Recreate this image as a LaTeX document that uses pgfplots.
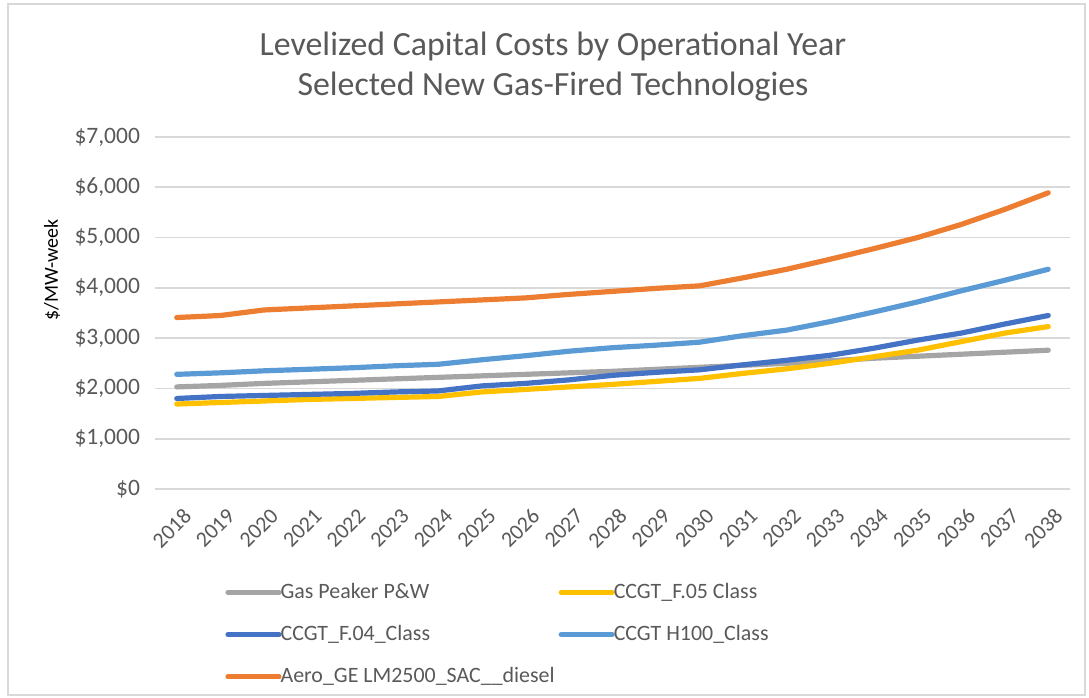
\documentclass[border=0pt]{standalone}
\usepackage{pgfplots}
\pgfplotsset{compat=1.18}
\usepackage{fontspec}
\setmainfont{Carlito}

\definecolor{txtgray}{HTML}{595959}
\definecolor{gridgray}{HTML}{D9D9D9}
\definecolor{cgray}{HTML}{A5A5A5}
\definecolor{cyellow}{HTML}{FFC000}
\definecolor{cdblue}{HTML}{4472C4}
\definecolor{clblue}{HTML}{5B9BD5}
\definecolor{corange}{HTML}{ED7D31}

\pgfplotstableread{
year  peaker  f05   f04   h100  aero
2018  2030  1690  1800  2280  3410
2019  2060  1720  1840  2310  3450
2020  2100  1750  1860  2350  3560
2021  2130  1780  1880  2380  3600
2022  2160  1800  1900  2410  3640
2023  2190  1820  1930  2450  3680
2024  2220  1840  1950  2480  3720
2025  2250  1930  2050  2570  3760
2026  2280  1980  2100  2650  3800
2027  2310  2030  2170  2740  3870
2028  2340  2080  2260  2810  3930
2029  2380  2140  2320  2860  3990
2030  2420  2200  2370  2920  4040
2031  2460  2300  2470  3050  4200
2032  2500  2390  2560  3160  4370
2033  2550  2500  2660  3330  4570
2034  2600  2630  2800  3520  4780
2035  2640  2760  2960  3720  5000
2036  2680  2930  3100  3940  5260
2037  2720  3100  3280  4150  5560
2038  2760  3230  3450  4370  5890
}\costs

\newcommand{\legtxt}[1]{\hspace*{-2.5bp}#1}

\begin{document}
\begin{tikzpicture}[x=0.5bp,y=0.5bp]
% bounding box = full reference frame (px -> bp, origin at axis lower left)
\useasboundingbox (-155,489) rectangle (934,-209);
\draw[gridgray,line width=0.75bp] (-147,485) rectangle (930,-206);
\begin{axis}[
  at={(0,0)}, anchor=south west,
  scale only axis,
  width=457.5bp, height=176bp,
  xmin=2017.5, xmax=2038.5,
  ymin=0, ymax=7000,
  axis line style={draw=none},
  major tick length=0pt,
  ymajorgrids, grid style={gridgray,line width=0.9bp},
  xtick={2018,...,2038},
  xticklabel style={/pgf/number format/1000 sep={},rotate=45,anchor=east,
    font=\fontsize{11}{13}\selectfont,text=txtgray,xshift=-1bp,yshift=-12bp},
  ytick={0,1000,...,7000},
  yticklabels={{\$0},{\$1,000},{\$2,000},{\$3,000},{\$4,000},{\$5,000},{\$6,000},{\$7,000}},
  yticklabel style={font=\fontsize{11.8}{13}\selectfont,text=txtgray,xshift=-4bp},
  /pgf/number format/assume math mode=true,
  ylabel={\$/MW-week},
  ylabel style={font=\fontsize{12}{14}\selectfont,text=txtgray},
  every axis y label/.style={at={(rel axis cs:-0.1126,0.622)},rotate=90,anchor=center},
  clip=false,
  legend style={at={(35bp,-45bp)},anchor=north west,draw=none,fill=none,
    inner sep=0pt,font=\fontsize{11}{13}\selectfont,text=txtgray,
    row sep=8bp},
  legend columns=2,
  legend cell align=left,
  legend image code/.code={\draw[#1] (0,0) -- (25.5bp,0);},
  every axis plot/.append style={line width=2.6bp,line join=round,line cap=round},
]
\addplot[cgray]   table[x=year,y=peaker]{\costs};
\addplot[cyellow] table[x=year,y=f05]{\costs};
\addplot[cdblue]  table[x=year,y=f04]{\costs};
\addplot[clblue]  table[x=year,y=h100]{\costs};
\addplot[corange] table[x=year,y=aero]{\costs};
\legend{\legtxt{Gas Peaker P\&W},\legtxt{CCGT\_F.05 Class},
  \legtxt{CCGT\_F.04\_Class},\legtxt{CCGT H100\_Class},
  \legtxt{Aero\_GE LM2500\_SAC\_\_diesel}}
\end{axis}
\node[text=txtgray,font=\fontsize{17}{20}\selectfont,align=center] at (398,422)
  {Levelized Capital Costs by Operational Year\\Selected New Gas-Fired Technologies};
\end{tikzpicture}
\end{document}
